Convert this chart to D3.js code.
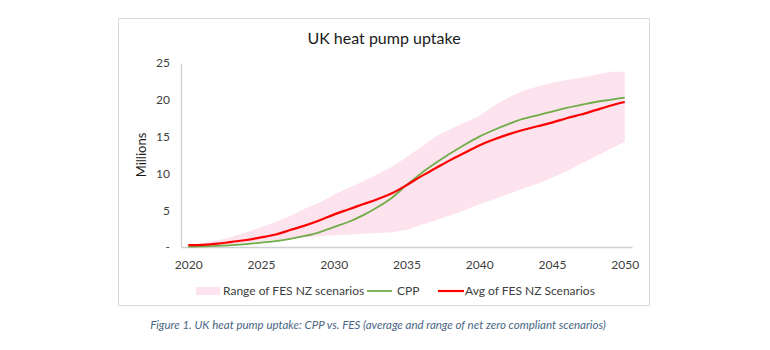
<!DOCTYPE html>
<html>
<head>
<meta charset="utf-8">
<script src="https://cdn.jsdelivr.net/npm/d3@7"></script>
<style>
  body { margin: 0; background: #fff; }
  svg text { font-family: Lato, "Open Sans", sans-serif; }
</style>
</head>
<body>
<div id="chart-area"></div>
<script>
// data (millions of heat pumps)
var years = d3.range(2020, 2051);
var fesLow  = [0.05,0.1,0.2,0.35,0.55,0.75,0.95,1.1,1.3,1.45,1.6,1.7,1.8,1.9,2.0,2.3,3.0,3.6,4.3,5.0,5.8,6.5,7.2,7.9,8.6,9.4,10.3,11.3,12.3,13.3,14.3];
var fesHigh = [0.3,0.5,0.9,1.4,2.0,2.7,3.4,4.2,5.2,6.0,7.1,8.0,8.9,9.9,10.9,12.2,13.6,15.0,16.0,16.9,17.8,19.2,20.3,21.2,21.8,22.3,22.7,23.0,23.4,23.8,23.8];
var cpp     = [0.05,0.08,0.15,0.25,0.4,0.6,0.8,1.1,1.5,2.0,2.7,3.4,4.3,5.4,6.7,8.4,10.0,11.4,12.7,13.9,15.0,15.9,16.7,17.4,17.9,18.4,18.9,19.3,19.7,20.0,20.3];
var fesAvg  = [0.25,0.3,0.45,0.7,0.95,1.3,1.7,2.3,2.9,3.6,4.4,5.1,5.8,6.5,7.3,8.4,9.6,10.7,11.8,12.8,13.8,14.6,15.3,15.9,16.4,16.9,17.5,18.0,18.6,19.2,19.7];
var xTicks = [2020, 2025, 2030, 2035, 2040, 2045, 2050];
var yTicks = [0, 5, 10, 15, 20, 25];
var yTickLabels = ["-", "5", "10", "15", "20", "25"];

var svg = d3.select("#chart-area")
	.append("svg")
		.attr("width", 770)
		.attr("height", 350);

// frame round the chart
svg.append("rect")
	.attr("x", 118.5)
	.attr("y", 18.5)
	.attr("width", 531)
	.attr("height", 287)
	.attr("fill", "#fff")
	.attr("stroke", "#d9d9d9");

var x = d3.scalePoint()
	.domain(years)
	.range([181, 632])
	.padding(0.5);

var y = d3.scaleLinear()
	.domain([0, 25])
	.range([247, 63]);

var rows = years.map((yr, i) => ({
	year: yr, low: fesLow[i], high: fesHigh[i], cpp: cpp[i], avg: fesAvg[i]
}));

// range band
svg.append("path")
	.datum(rows)
	.attr("fill", "#fce3ee")
	.attr("d", d3.area()
		.x(d => x(d.year))
		.y0(d => y(d.low))
		.y1(d => y(d.high)));

// axes
var xAxisCall = d3.axisBottom(x)
	.tickValues(xTicks)
	.tickSize(0)
	.tickPadding(13);
var xAxis = svg.append("g")
	.attr("transform", "translate(0,247)")
	.call(xAxisCall);
xAxis.select(".domain").attr("stroke", "#d0d0d0").attr("stroke-width", 1.3);
xAxis.selectAll("text").attr("font-size", "12px").attr("fill", "#404040");

var yAxisCall = d3.axisLeft(y)
	.tickValues(yTicks)
	.tickSize(0)
	.tickPadding(11)
	.tickFormat((d, i) => yTickLabels[i]);
var yAxis = svg.append("g")
	.attr("transform", "translate(181,0)")
	.call(yAxisCall);
yAxis.select(".domain").attr("stroke", "#d0d0d0").attr("stroke-width", 1.3);
yAxis.selectAll("text").attr("font-size", "12px").attr("fill", "#404040");

// lines
var line = key => d3.line()
	.curve(d3.curveMonotoneX)
	.x(d => x(d.year))
	.y(d => y(d[key]));

svg.append("path")
	.datum(rows)
	.attr("fill", "none")
	.attr("stroke", "#70ad47")
	.attr("stroke-width", 1.8)
	.attr("d", line("cpp"));

svg.append("path")
	.datum(rows)
	.attr("fill", "none")
	.attr("stroke", "#ff0000")
	.attr("stroke-width", 2.2)
	.attr("d", line("avg"));

// title
svg.append("text")
	.attr("x", 384)
	.attr("y", 44)
	.attr("text-anchor", "middle")
	.attr("font-size", "16px")
	.attr("fill", "#1a1a1a")
	.text("UK heat pump uptake");

// Y label
svg.append("text")
	.attr("transform", "translate(146,155) rotate(-90)")
	.attr("text-anchor", "middle")
	.attr("font-size", "13px")
	.attr("fill", "#1a1a1a")
	.text("Millions");

// legend
var legend = svg.append("g").attr("transform", "translate(0,291)");
legend.append("rect")
	.attr("x", 196).attr("y", -4).attr("width", 24).attr("height", 8)
	.attr("fill", "#fce3ee");
legend.append("line")
	.attr("x1", 367).attr("x2", 392)
	.attr("stroke", "#70ad47").attr("stroke-width", 1.8);
legend.append("line")
	.attr("x1", 438).attr("x2", 464)
	.attr("stroke", "#ff0000").attr("stroke-width", 2.2);
[["Range of FES NZ scenarios", 223], ["CPP", 397], ["Avg of FES NZ Scenarios", 465]].forEach(function(t){
	legend.append("text")
		.attr("x", t[1])
		.attr("y", 4)
		.attr("font-size", "12px")
		.attr("fill", "#404040")
		.text(t[0]);
});

// caption
svg.append("text")
	.attr("x", 378)
	.attr("y", 329)
	.attr("text-anchor", "middle")
	.attr("font-size", "11.5px")
	.attr("font-style", "italic")
	.attr("fill", "#4a6583")
	.text("Figure 1. UK heat pump uptake: CPP vs. FES (average and range of net zero compliant scenarios)");
</script>
</body>
</html>
